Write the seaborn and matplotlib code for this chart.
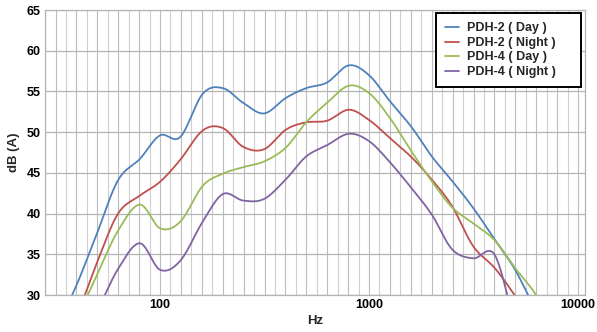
import numpy as np
import pandas as pd
import matplotlib
matplotlib.use("Agg")
import matplotlib.pyplot as plt
import seaborn as sns

# 1/3-octave band centre frequencies (Hz)
freqs = [31.5, 40, 50, 63, 80, 100, 125, 160, 200, 250, 315, 400, 500,
         630, 800, 1000, 1250, 1600, 2000, 2500, 3150, 4000, 5000, 6300, 8000]
nan = np.nan
pdh2_day = [25.5, 31.3, 37.6, 44.1, 46.7, 49.6, 49.4, 54.7, 55.4, 53.6, 52.3, 54.2, 55.4,
            56.1, 58.2, 57.0, 53.9, 50.6, 47.0, 44.0, 40.7, 36.8, 33.1, 28.0, nan]
pdh2_night = [22.0, 27.5, 34.0, 40.0, 42.2, 43.9, 46.6, 50.2, 50.5, 48.2, 47.9, 50.3, 51.2,
              51.4, 52.75, 51.5, 49.35, 46.9, 44.15, 40.9, 36.0, 33.3, 29.9, 26.0, nan]
pdh4_day = [21.0, 27.0, 32.5, 37.9, 41.1, 38.2, 39.0, 43.4, 44.9, 45.7, 46.4, 48.1, 51.2,
            53.6, 55.7, 54.8, 51.85, 47.6, 43.95, 40.75, 38.8, 36.7, 33.3, 30.0, 25.0]
pdh4_night = [nan, 23.0, 28.0, 33.2, 36.35, 33.1, 34.2, 39.0, 42.4, 41.6, 41.8, 44.2, 47.0,
              48.4, 49.8, 48.9, 46.4, 43.1, 39.85, 35.6, 34.5, 34.9, 26.0, nan, nan]
series_names = ["PDH-2 ( Day )", "PDH-2 ( Night )", "PDH-4 ( Day )", "PDH-4 ( Night )"]
series_vals = [pdh2_day, pdh2_night, pdh4_day, pdh4_night]
colors = ["#4F81BD", "#C0504D", "#9BBB59", "#8064A2"]
y_ticks = [30, 35, 40, 45, 50, 55, 60, 65]
x_ticks = [100, 1000, 10000]
x_tick_labels = ["100", "1000", "10000"]


def smooth(xs, ys, n=24):
    """Catmull-Rom smoothing (like spreadsheet 'smoothed line') in log-x space."""
    lx = np.log10(np.asarray(xs, float))
    y = np.asarray(ys, float)
    P = np.column_stack([lx, y])
    P = np.vstack([P[0], P, P[-1]])
    out = []
    for i in range(1, len(P) - 2):
        p0, p1, p2, p3 = P[i - 1], P[i], P[i + 1], P[i + 2]
        t = np.linspace(0, 1, n, endpoint=False)[:, None]
        pts = 0.5 * ((2 * p1) + (-p0 + p2) * t + (2 * p0 - 5 * p1 + 4 * p2 - p3) * t ** 2
                     + (-p0 + 3 * p1 - 3 * p2 + p3) * t ** 3)
        out.append(pts)
    out.append(P[-2][None, :])
    out = np.vstack(out)
    return 10 ** out[:, 0], out[:, 1]


rows = []
for name, vals in zip(series_names, series_vals):
    f = np.array(freqs, float)
    v = np.array(vals, float)
    m = ~np.isnan(v)
    sx, sy = smooth(f[m], v[m])
    for a, b in zip(sx, sy):
        rows.append({"Hz": a, "dB": b, "series": name})
df = pd.DataFrame(rows)

sns.set_theme(style="white")
plt.rcParams["font.family"] = ["Liberation Sans", "DejaVu Sans"]
plt.rcParams["font.weight"] = "bold"

fig = plt.figure(figsize=(5.97, 3.32), dpi=100)
ax = fig.add_axes([45 / 597, 1 - 295 / 332, 540 / 597, 285 / 332])

# grid
for k in range(-12, 42):
    gx = 10 ** (2 + k / 20)
    ax.axvline(gx, color="#cfcfcf" if k % 2 else "#bcbcbc", lw=0.8, zorder=0)
for yt in y_ticks:
    ax.axhline(yt, color="#b4b4b4", lw=0.9, zorder=0)

sns.lineplot(data=df, x="Hz", y="dB", hue="series", hue_order=series_names,
             palette=colors, estimator=None, sort=False, units="series",
             lw=1.3, ax=ax, legend=True)

ax.set_xscale("log")
ax.set_xlim(10 ** (2 - 115 / 209), 10 ** (4 + 7 / 209))
ax.set_ylim(30, 65)
ax.set_xticks(x_ticks)
ax.set_xticklabels(x_tick_labels)
ax.xaxis.set_minor_locator(matplotlib.ticker.NullLocator())
ax.set_yticks(y_ticks)
ax.tick_params(axis="both", labelsize=9, length=0, pad=3, colors="black")
for lab in ax.get_xticklabels() + ax.get_yticklabels():
    lab.set_fontweight("bold")
ax.set_xlabel("Hz", fontsize=9.5, fontweight="bold", labelpad=3)
ax.set_ylabel("dB (A)", fontsize=9.5, fontweight="bold", labelpad=5)
for s in ax.spines.values():
    s.set_color("#b4b4b4")
    s.set_linewidth(0.9)

handles, labels = ax.get_legend_handles_labels()
leg = ax.legend(handles, labels, loc="upper left",
                bbox_to_anchor=(391 / 540, 1 - 87 / 285 + 10 / 285, 145 / 540, 74 / 285),
                mode="expand", frameon=True, fancybox=False, handlelength=1.1,
                handletextpad=0.6, labelspacing=0.2, borderpad=0.75,
                borderaxespad=0, fontsize=9)
leg.get_frame().set_edgecolor("black")
leg.get_frame().set_linewidth(1.4)
leg.get_frame().set_alpha(1)
for t in leg.get_texts():
    t.set_fontweight("bold")
    t.set_fontfamily(["Liberation Sans", "DejaVu Sans"])

fig.savefig("out.png", dpi=100)
